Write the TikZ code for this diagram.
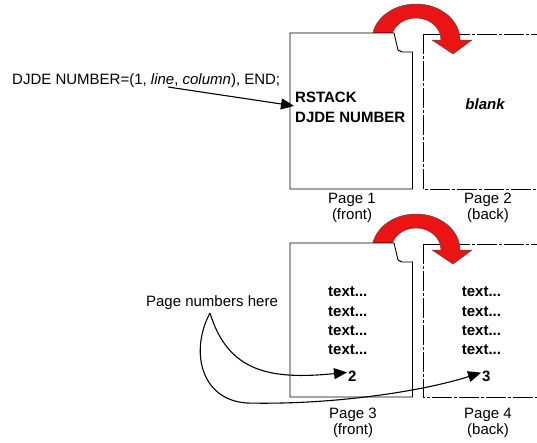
\documentclass[tikz,border=0pt]{standalone}
\usepackage{fontspec}
\setmainfont{Liberation Sans}
\usetikzlibrary{arrows.meta,calc}
\definecolor{flipred}{RGB}{235,20,20}
\tikzset{
  page/.style={draw=black,line width=0.9pt,fill=white},
  backpage/.style={draw=black,line width=0.9pt,dash pattern=on 20pt off 2pt on 3pt off 2pt},
  flip/.style={fill=flipred,draw=black!70,line width=0.5pt},
  lbl/.style={font=\fontsize{15}{18}\selectfont,inner sep=0pt},
  blbl/.style={font=\fontsize{15}{18}\selectfont\bfseries,inner sep=0pt},
  pglbl/.style={font=\fontsize{15}{16.5}\selectfont,inner sep=0pt,align=center,anchor=north},
  conn/.style={line width=1.1pt,-{Triangle[length=13pt,width=11pt]}}
}
\begin{document}
\begin{tikzpicture}[x=1pt,y=-1pt]
\clip (0,0) rectangle (537,442);
\fill[white] (0,0) rectangle (537,442);
% ---------- top pair ----------
\draw[backpage] (423,34) -- (423,189) -- (560,189);
\draw[backpage] (423,34) -- (560,34);
\path[flip] (372,40) arc[start angle=180,end angle=360,x radius=44,y radius=36]
  -- (472,40) -- (453,54) -- (432,40) -- (441,40)
  arc[start angle=360,end angle=180,x radius=25,y radius=22] -- cycle;
\path[page] (290,33) -- (394,33) -- (398,50) -- (402,52) -- (412.5,52) -- (412.5,189) -- (290,189) -- cycle;
\node[lbl,anchor=base west] (cmd) at (12,84) {DJDE NUMBER=(1, \textit{line}, \textit{column}), END;};
\coordinate (cmdpt) at (168,87);
\node[blbl,anchor=base west] (rs1) at (295,102.7) {RSTACK};
\node[blbl,anchor=base west] (rs2) at (295,122.7) {DJDE NUMBER};
\draw[conn,shorten >=1pt] (cmdpt) -- ($(rs1.south west)+(0,3)$);
\node[blbl,anchor=base] (blank) at (485,109.5) {\itshape blank};
\node[pglbl] (p1) at (352,192.5) {Page 1\\(front)};
\node[pglbl] (p2) at (488,192.5) {Page 2\\(back)};
% ---------- bottom pair ----------
\draw[backpage] (423,244) -- (423,397) -- (560,397);
\draw[backpage] (423,244) -- (560,244);
\path[flip] (372,250) arc[start angle=180,end angle=360,x radius=44,y radius=36]
  -- (472,250) -- (453,264) -- (432,250) -- (441,250)
  arc[start angle=360,end angle=180,x radius=25,y radius=22] -- cycle;
\path[page] (290,243) -- (394,243) -- (398,260) -- (402,262) -- (412.5,262) -- (412.5,397) -- (290,397) -- cycle;
\foreach \yy/\nm in {296.7/a,316/b,335/c,354/d}{
  \node[blbl,anchor=base west] (t3\nm) at (328,\yy) {text...};
  \node[blbl,anchor=base west] (t4\nm) at (461.7,\yy) {text...};
}
\node[blbl,anchor=base west] (two) at (348,381.5) {2};
\node[blbl,anchor=base west] (three) at (482,381.5) {3};
\node[pglbl] (p3) at (353,407.5) {Page 3\\(front)};
\node[pglbl] (p4) at (488,407.5) {Page 4\\(back)};
\node[lbl,anchor=base] (pnh) at (212,306.5) {Page numbers here};
\coordinate (p0) at (210,313);
\draw[conn,shorten >=1pt] (p0) .. controls (228,372) and (270,380) .. ($(two.west)+(0,-4)$);
\draw[conn,shorten >=1pt] (p0) .. controls (190,350) and (200,400) .. (247,403)
  .. controls (330,405) and (420,392) .. ($(three.west)+(0,-4)$);
\end{tikzpicture}
\end{document}
